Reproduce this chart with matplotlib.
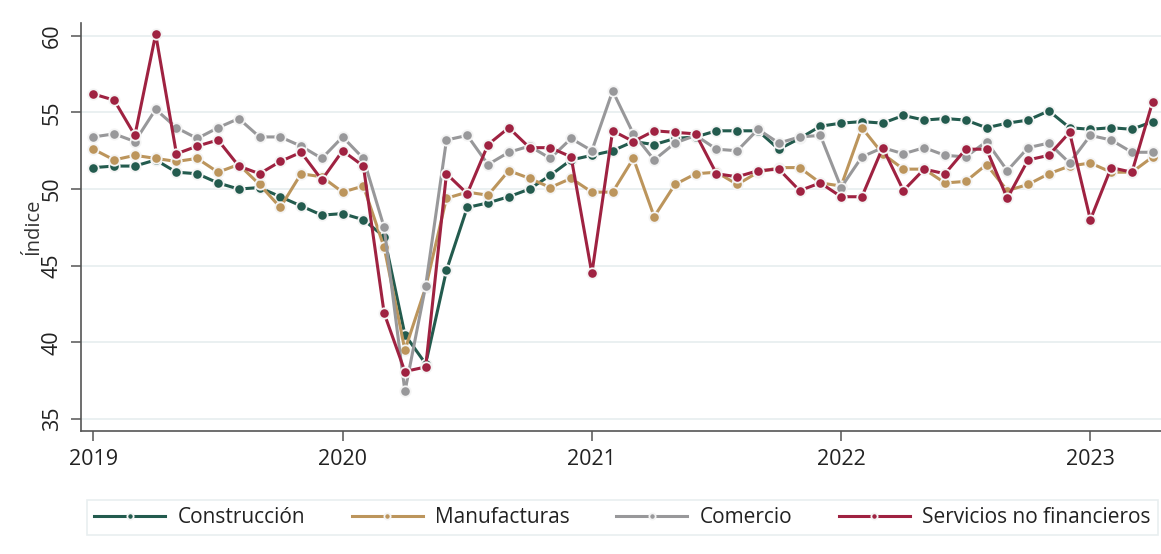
import matplotlib
matplotlib.use("Agg")
import matplotlib.pyplot as plt
import numpy as np

plt.rcParams['font.family'] = ['Open Sans', 'DejaVu Sans']

# Monthly index, Jan 2019 - Apr 2023
construccion = [51.4, 51.5, 51.5, 51.9, 51.1, 51.0, 50.4, 50.0, 50.1, 49.5, 48.9, 48.3,
                48.4, 48.0, 46.9, 40.5, 38.6, 44.7, 48.8, 49.1, 49.5, 50.0, 50.9, 51.9,
                52.2, 52.5, 53.1, 52.9, 53.3, 53.4, 53.8, 53.8, 53.8, 52.6, 53.3, 54.1,
                54.3, 54.4, 54.3, 54.8, 54.5, 54.6, 54.5, 54.0, 54.3, 54.5, 55.1, 54.0,
                53.9, 54.0, 53.9, 54.4]
manufacturas = [52.6, 51.9, 52.2, 52.0, 51.8, 52.0, 51.1, 51.6, 50.3, 48.8, 51.0, 50.8,
                49.8, 50.2, 46.2, 39.5, 43.6, 49.4, 49.8, 49.6, 51.2, 50.7, 50.1, 50.7,
                49.8, 49.8, 52.0, 48.2, 50.3, 51.0, 51.1, 50.3, 51.1, 51.4, 51.4, 50.4,
                50.2, 54.0, 52.3, 51.3, 51.3, 50.4, 50.5, 51.6, 49.9, 50.3, 51.0, 51.5,
                51.7, 51.1, 51.1, 52.1]
comercio = [53.4, 53.6, 53.1, 55.2, 54.0, 53.3, 54.0, 54.6, 53.4, 53.4, 52.8, 52.0,
            53.4, 52.0, 47.5, 36.8, 43.7, 53.2, 53.5, 51.6, 52.4, 52.8, 52.0, 53.3,
            52.5, 56.4, 53.6, 51.9, 53.0, 53.5, 52.6, 52.5, 53.9, 53.0, 53.4, 53.5,
            50.1, 52.1, 52.7, 52.3, 52.7, 52.2, 52.1, 53.1, 51.2, 52.7, 53.0, 51.7,
            53.5, 53.2, 52.4, 52.4]
servicios = [56.2, 55.8, 53.5, 60.1, 52.3, 52.8, 53.2, 51.5, 51.0, 51.8, 52.4, 50.6,
             52.5, 51.5, 41.9, 38.1, 38.4, 51.0, 49.7, 52.9, 54.0, 52.7, 52.7, 52.1,
             44.5, 53.8, 53.1, 53.8, 53.7, 53.6, 51.0, 50.8, 51.2, 51.3, 49.9, 50.4,
             49.5, 49.5, 52.7, 49.9, 51.3, 51.0, 52.6, 52.6, 49.4, 51.9, 52.2, 53.7,
             48.0, 51.4, 51.1, 55.7]

series_names = ['Construcción', 'Manufacturas', 'Comercio', 'Servicios no financieros']
year_labels = ['2019', '2020', '2021', '2022', '2023']
y_ticks = [35, 40, 45, 50, 55, 60]

colors = ['#235b4e', '#bc955c', '#98989a', '#9f2241']

fig = plt.figure(figsize=(11.61, 5.54), dpi=100)
ax = fig.add_axes([0.0695, 0.222, 0.9305, 0.737])

x = np.arange(len(construccion))
for vals, name, c in zip([construccion, manufacturas, comercio, servicios], series_names, colors):
    ax.plot(x, vals, color=c, lw=2.2, marker='o', markersize=7.5,
            markerfacecolor=c, markeredgecolor='#f4f4f4', markeredgewidth=1.3,
            label=name, zorder=3)

ax.set_xlim(-0.61, 51.4)
ax.set_ylim(34.22, 60.85)
ax.set_yticks(y_ticks)
ax.set_yticklabels([str(v) for v in y_ticks], rotation=90, va='center')
ax.set_xticks([12 * i for i in range(len(year_labels))])
ax.set_xticklabels(year_labels)

ax.grid(axis='y', color='#e8eff0', lw=1.3, zorder=0)
ax.grid(axis='x', visible=False)
for s in ['top', 'right']:
    ax.spines[s].set_visible(False)
for s in ['left', 'bottom']:
    ax.spines[s].set_color('#555555')
    ax.spines[s].set_linewidth(1.2)
ax.tick_params(axis='both', length=7, width=1.1, color='#555555',
               labelsize=15.5, labelcolor='#222222', pad=6)
ax.set_ylabel('Índice', fontsize=14.5, color='#333333', labelpad=-1)

leg = fig.legend(loc='lower left', bbox_to_anchor=(0.075, 0.034, 0.9225, 0.069),
                 mode='expand', ncol=4, fontsize=15, frameon=True, fancybox=False,
                 handlelength=3.4, handletextpad=0.6, borderaxespad=0,
                 borderpad=0.35, markerscale=0.6)
leg.get_frame().set_edgecolor('#e3eaec')
leg.get_frame().set_linewidth(1.2)
for t in leg.get_texts():
    t.set_color('#222222')

fig.savefig('out.png', dpi=100)
